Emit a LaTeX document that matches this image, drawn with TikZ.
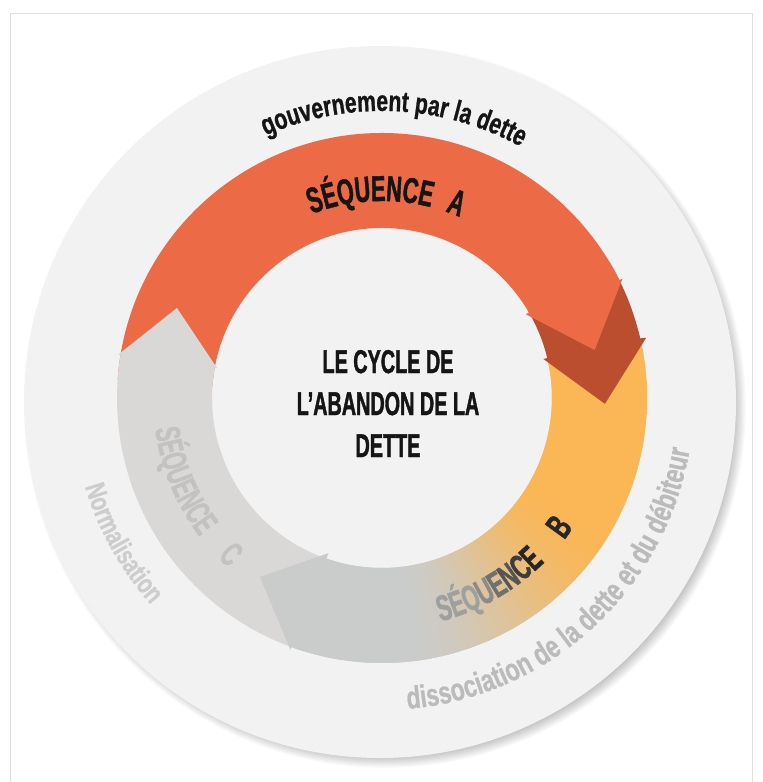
\documentclass[tikz,border=0pt]{standalone}
\usepackage{fontspec}
\usetikzlibrary{decorations.text}
\newfontfamily\capsfont[FakeStretch=0.6,FakeBold=1.2]{Liberation Sans}
\newfontfamily\lowfont[FakeStretch=0.73,FakeBold=0.8]{Liberation Sans}
\definecolor{bgdisk}{HTML}{F2F2F3}
\definecolor{framecol}{HTML}{DEDEDE}
\definecolor{seqA}{HTML}{EC6A45}
\definecolor{seqAdark}{HTML}{BC4E30}
\definecolor{seqB}{HTML}{FBB655}
\definecolor{seqBgray}{HTML}{CACCCB}
\definecolor{seqC}{HTML}{DAD8D6}
\definecolor{txtdark}{HTML}{151515}
\definecolor{txtC}{HTML}{C4C2C0}
\definecolor{txtNorm}{HTML}{CDCDCD}
\definecolor{txtDiss}{HTML}{BBBBBB}
\definecolor{bA}{HTML}{9EA0A0}
\definecolor{bB}{HTML}{8A8B8B}
\definecolor{bC}{HTML}{6F7070}
\definecolor{bD}{HTML}{555555}
\definecolor{bE}{HTML}{3C3C3C}
\definecolor{bF}{HTML}{262626}
\begin{document}
\begin{tikzpicture}[x=1pt,y=1pt,
  arctext/.style={decorate, decoration={text along path, text align=center, text={#1}}}]
\useasboundingbox (-382,-384) rectangle (381,398);
\fill[white] (-382,-384) rectangle (381,398);
\draw[framecol, line width=1pt] (-371,384) rectangle (370,-400);
% shadow of the disk
\foreach \k in {1,...,14}{
  \fill[black, opacity=0.024] (3,-9) circle[radius=344+\k*1.2];
}
\fill[bgdisk] (-2,-4) circle[radius=356];
% sequence C body, tail part (under B)
\fill[seqC] (253:265) arc[start angle=253, end angle=198, radius=265]
  -- (198:170) arc[start angle=198, end angle=253, radius=170] -- cycle;
% sequence B body with gradient
\foreach \a in {14,13,...,-109}{
  \pgfmathsetmacro\aS{\a+0.6}
  \pgfmathsetmacro\aE{\a-1.5}
  \pgfmathsetmacro\tt{max(0,min(1,(-30-\a)/55))}
  \pgfmathsetmacro\pp{100*\tt*\tt*(3-2*\tt)}
  \fill[fill=seqBgray!\pp!seqB] (\aS:265) arc[start angle=\aS, end angle=\aE, radius=265]
    -- (\aE:170) arc[start angle=\aE, end angle=\aS, radius=170] -- cycle;
}
% sequence A dark head
\fill[seqAdark] (31:265) arc[start angle=31, end angle=13, radius=265]
  -- (12.85:271) -- (-1.5:223) -- (13.6:166) -- (13.6:170)
  arc[start angle=13.6, end angle=31, radius=170] -- cycle;
% sequence A body
\fill[seqA] (176:265) arc[start angle=176, end angle=26.4, radius=265]
  -- (26.4:268.5) -- (12.7:218) -- (30.2:166.5) -- (30.2:170)
  arc[start angle=30.2, end angle=176, radius=170] -- cycle;
% sequence C body, front part
\fill[seqC] (201:265) arc[start angle=201, end angle=170.2, radius=265]
  -- (169.2:170) arc[start angle=169.2, end angle=201, radius=170] -- cycle;
% heads
\fill[seqBgray] (251:164) -- (235.7:216.6) -- (250:268) -- cycle;
\fill[seqC] (170.7:267.5) -- (156.3:224) -- (169.7:167.7) -- cycle;
% centre title
\node[font=\fontsize{33}{42}\selectfont\capsfont\bfseries, text=txtdark, align=center, inner sep=0pt]
  (title) at (6,-5.5) {LE CYCLE DE\\L’ABANDON DE LA\\DETTE};
% curved texts
\path[arctext={|\fontsize{29}{29}\selectfont\lowfont\bfseries\color{txtdark}|gouvernement par la dette}]
  (159:287) arc[start angle=159, end angle=16, radius=287];
\path[arctext={|\fontsize{36}{36}\selectfont\capsfont\bfseries\color{txtdark}|SÉQUENCE}]
  (133.3:197) arc[start angle=133.3, end angle=53.3, radius=197];
\path[arctext={|\fontsize{36}{36}\selectfont\capsfont\bfseries\color{txtdark}|A}]
  (89:197) arc[start angle=89, end angle=49, radius=197];
\path[arctext={|\fontsize{36}{36}\selectfont\capsfont\bfseries\color{bA}|SÉQ|\fontsize{36}{36}\selectfont\capsfont\bfseries\color{bB}|U|\fontsize{36}{36}\selectfont\capsfont\bfseries\color{bC}|E|\fontsize{36}{36}\selectfont\capsfont\bfseries\color{bD}|N|\fontsize{36}{36}\selectfont\capsfont\bfseries\color{bE}|C|\fontsize{36}{36}\selectfont\capsfont\bfseries\color{bF}|E}]
  (-100.3:231) arc[start angle=-100.3, end angle=-20.3, radius=231];
\path[arctext={|\fontsize{36}{36}\selectfont\capsfont\bfseries\color{bF}|B}]
  (-56:231) arc[start angle=-56, end angle=-16, radius=231];
\path[arctext={|\fontsize{31.5}{31.5}\selectfont\lowfont\bfseries\color{txtDiss}|dissociation de la dette et du débiteur}]
  (-97.4:312) arc[start angle=-97.4, end angle=2.6, radius=312];
% texts on the left side
\path[arctext={|\fontsize{35}{35}\selectfont\capsfont\bfseries\color{txtC}|SÉQUENCE}]
  (162.5:229) arc[start angle=162.5, end angle=242.5, radius=229];
\path[arctext={|\fontsize{35}{35}\selectfont\capsfont\bfseries\color{txtC}|C}]
  (206:229) arc[start angle=206, end angle=246, radius=229];
\path[arctext={|\fontsize{28}{28}\selectfont\lowfont\bfseries\color{txtNorm}|Normalisation}]
  (169.2:310) arc[start angle=169.2, end angle=249.2, radius=310];
\end{tikzpicture}
\end{document}
